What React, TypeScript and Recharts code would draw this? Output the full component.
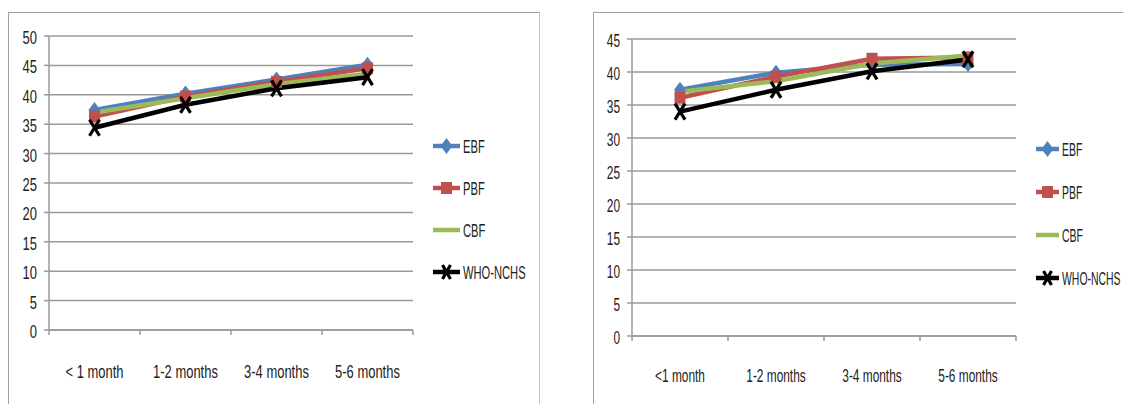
import { LineChart, Line, XAxis, YAxis, CartesianGrid } from "recharts"

const leftCategories = ["< 1 month", "1-2 months", "3-4 months", "5-6 months"]
const rightCategories = ["<1 month", "1-2 months", "3-4 months", "5-6 months"]

const leftEbf = [37.4, 40.2, 42.6, 45.1]
const leftPbf = [36.3, 39.7, 42.2, 44.5]
const leftCbf = [37.0, 39.4, 41.8, 43.6]
const leftWho = [34.4, 38.3, 41.1, 43.0]

const rightEbf = [37.3, 39.9, 41.1, 41.2]
const rightPbf = [36.1, 39.3, 42.0, 42.2]
const rightCbf = [37.0, 38.6, 41.3, 42.5]
const rightWho = [34.0, 37.3, 40.1, 41.9]

const leftYTicks = [0, 5, 10, 15, 20, 25, 30, 35, 40, 45, 50]
const rightYTicks = [0, 5, 10, 15, 20, 25, 30, 35, 40, 45]

// the source picture is stretched tall, so text is drawn narrow
const FONT = '"Liberation Sans", Arial, sans-serif'
const FS = 18
const BLUE = "#4f81bd"
const RED = "#c0504d"
const GREEN = "#9bbb59"
const GRID = "#9a9a9a"
const INK = "#222"
const LW = 4.5

const buildRows = (cats: string[], ebf: number[], pbf: number[], cbf: number[], who: number[]) =>
  cats.map((cat, i) => ({ cat, EBF: ebf[i], PBF: pbf[i], CBF: cbf[i], WHO: who[i] }))

const leftRows = buildRows(leftCategories, leftEbf, leftPbf, leftCbf, leftWho)
const rightRows = buildRows(rightCategories, rightEbf, rightPbf, rightCbf, rightWho)

const diamondPath = (cx: number, cy: number, w: number, h: number) =>
  `M${cx},${cy - h}L${cx + w},${cy}L${cx},${cy + h}L${cx - w},${cy}Z`

function NarrowText({ x, y, anchor, sx, children }: any) {
  return (
    <g transform={`translate(${x},${y}) scale(${sx},1)`}>
      <text x={0} y={0} textAnchor={anchor} fontSize={FS} fill={INK} fontFamily={FONT}>
        {children}
      </text>
    </g>
  )
}

function DiamondDot(props: any) {
  const { cx, cy, index } = props
  if (cx == null || cy == null) return <g key={index} />
  return <path key={index} d={diamondPath(cx, cy, 6, 8)} fill={BLUE} />
}

function SquareDot(props: any) {
  const { cx, cy, index } = props
  if (cx == null || cy == null) return <g key={index} />
  return <rect key={index} x={cx - 5.5} y={cy - 6} width={11} height={12} fill={RED} />
}

function CrossDot(props: any) {
  const { cx, cy, index } = props
  if (cx == null || cy == null) return <g key={index} />
  return (
    <g key={index}>
      <path d={`M${cx - 5},${cy - 8}L${cx + 5},${cy + 8}M${cx + 5},${cy - 8}L${cx - 5},${cy + 8}`} stroke="#000" strokeWidth={3.2} />
    </g>
  )
}

// category labels centred in bands, tick marks on the band edges (Excel style)
function makeCatTick(band: number, labelDy: number, count: number, sx: number) {
  return function CatTick(props: any) {
    const { x, y, payload, index } = props
    const left = x - band / 2
    return (
      <g>
        <line x1={left} x2={left} y1={y} y2={y + 5} stroke={GRID} strokeWidth={1.5} />
        {index === count - 1 && (
          <line x1={x + band / 2} x2={x + band / 2} y1={y} y2={y + 5} stroke={GRID} strokeWidth={1.5} />
        )}
        <NarrowText x={x} y={y + labelDy} anchor="middle" sx={sx}>
          {payload.value}
        </NarrowText>
      </g>
    )
  }
}

function makeValTick(sx: number) {
  return function ValTick(props: any) {
    const { x, y, payload } = props
    return (
      <NarrowText x={x} y={y + 8} anchor="end" sx={sx}>
        {payload.value}
      </NarrowText>
    )
  }
}

const legendItems = [
  { name: "EBF", kind: "diamond", color: BLUE },
  { name: "PBF", kind: "square", color: RED },
  { name: "CBF", kind: "none", color: GREEN },
  { name: "WHO-NCHS", kind: "cross", color: "#000" },
]

function Legend({ left, top, gap, w, sx }: { left: number; top: number; gap: number; w: number; sx: number }) {
  const cx = w / 2
  return (
    <svg style={{ position: "absolute", left, top }} width={100} height={gap * 4}>
      {legendItems.map((it, i) => {
        const cy = 10 + i * gap
        return (
          <g key={it.name}>
            <line x1={0} x2={w} y1={cy} y2={cy} stroke={it.color} strokeWidth={LW} />
            {it.kind === "diamond" && <path d={diamondPath(cx, cy, 6, 8)} fill={it.color} />}
            {it.kind === "square" && <rect x={cx - 5.5} y={cy - 6} width={11} height={12} fill={it.color} />}
            {it.kind === "cross" && (
              <path
                d={`M${cx - 4},${cy - 7}L${cx + 4},${cy + 7}M${cx + 4},${cy - 7}L${cx - 4},${cy + 7}`}
                stroke={it.color}
                strokeWidth={3.2}
              />
            )}
            <NarrowText x={w + 3} y={cy + 7} anchor="start" sx={sx}>
              {it.name}
            </NarrowText>
          </g>
        )
      })}
    </svg>
  )
}

function Panel(props: {
  rows: any[]
  width: number
  margin: { top: number; right: number; bottom: number; left: number }
  yWidth: number
  yMax: number
  yTicks: number[]
  plotW: number
  labelDy: number
  tickMargin: number
  sx: number
}) {
  const { rows, width, margin, yWidth, yMax, yTicks, plotW, labelDy, tickMargin, sx } = props
  const band = plotW / rows.length
  return (
    <LineChart width={width} height={404} data={rows} margin={margin}>
      <CartesianGrid vertical={false} stroke={GRID} strokeWidth={1.5} />
      <XAxis
        dataKey="cat"
        padding={{ left: band / 2, right: band / 2 }}
        axisLine={{ stroke: GRID, strokeWidth: 1.5 }}
        tickLine={false}
        tickSize={0}
        tickMargin={0}
        height={40}
        interval={0}
        tick={makeCatTick(band, labelDy, rows.length, sx)}
      />
      <YAxis
        width={yWidth}
        domain={[0, yMax]}
        ticks={yTicks}
        interval={0}
        axisLine={{ stroke: GRID, strokeWidth: 1.5 }}
        tickLine={{ stroke: GRID, strokeWidth: 1.5 }}
        tickSize={5}
        tickMargin={tickMargin}
        tick={makeValTick(sx)}
      />
      <Line dataKey="EBF" stroke={BLUE} strokeWidth={LW} dot={DiamondDot} activeDot={false} isAnimationActive={false} />
      <Line dataKey="PBF" stroke={RED} strokeWidth={LW} dot={SquareDot} activeDot={false} isAnimationActive={false} />
      <Line dataKey="CBF" stroke={GREEN} strokeWidth={LW} dot={false} activeDot={false} isAnimationActive={false} />
      <Line dataKey="WHO" stroke="#000" strokeWidth={LW} dot={CrossDot} activeDot={false} isAnimationActive={false} />
    </LineChart>
  )
}

export default function App() {
  return (
    <div style={{ position: "fixed", left: 0, top: 0, width: 1123, height: 404, background: "#fff", overflow: "hidden" }}>
      <div style={{ position: "absolute", left: 8, top: 12, width: 530, height: 420, border: "1.5px solid #a0a0a0", borderRightColor: "#c4c4c4" }} />
      <div style={{ position: "absolute", left: 593, top: 12, width: 560, height: 420, border: "1.5px solid #a0a0a0" }} />

      <div style={{ position: "absolute", left: 0, top: 0 }}>
        <Panel
          rows={leftRows}
          width={540}
          margin={{ top: 36, right: 127, bottom: 34, left: 12 }}
          yWidth={37}
          yMax={50}
          yTicks={leftYTicks}
          plotW={364}
          labelDy={48}
          tickMargin={7}
          sx={0.72}
        />
      </div>
      <Legend left={433} top={136} gap={42} w={27} sx={0.62} />

      <div style={{ position: "absolute", left: 560, top: 0 }}>
        <Panel
          rows={rightRows}
          width={563}
          margin={{ top: 39, right: 107, bottom: 28, left: 34 }}
          yWidth={38}
          yMax={45}
          yTicks={rightYTicks}
          plotW={384}
          labelDy={46}
          tickMargin={7}
          sx={0.66}
        />
      </div>
      <Legend left={1036} top={139} gap={43} w={23} sx={0.58} />
    </div>
  )
}
